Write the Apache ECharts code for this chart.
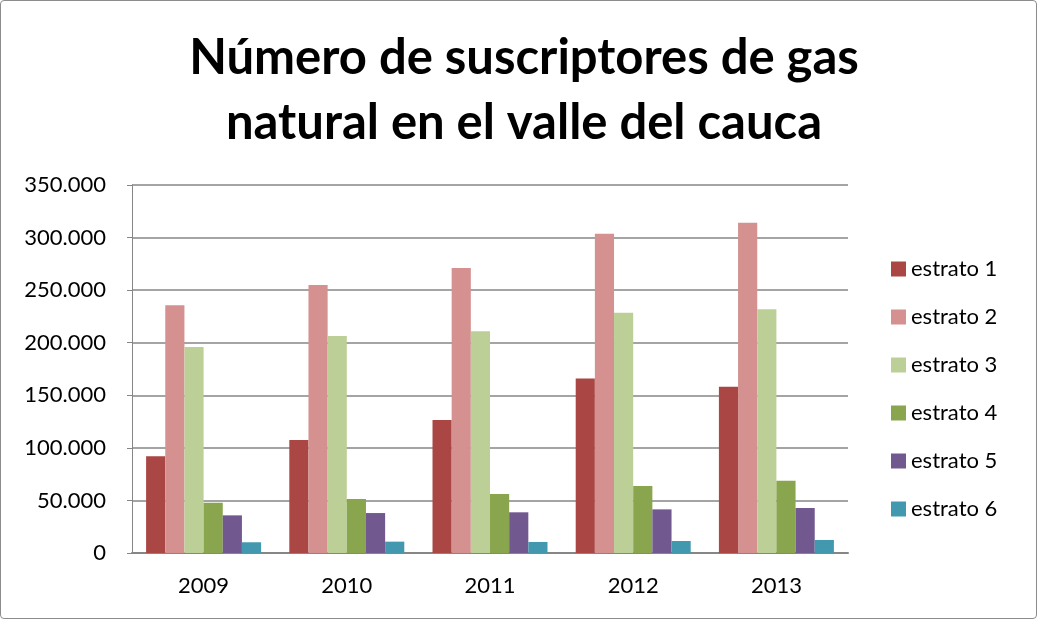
<!DOCTYPE html>
<html>
<head>
<meta charset="utf-8">
<script src="https://cdn.jsdelivr.net/npm/echarts@6/dist/echarts.min.js"></script>
<style>
html, body { margin: 0; padding: 0; background: #fff; }
#chart { position: absolute; left: 0; top: 0; width: 1035px; height: 617px; border: 1px solid #8c8c8c; border-radius: 4px; }
</style>
</head>
<body>
<div id="chart"></div>
<script>
var years = ['2009', '2010', '2011', '2012', '2013'];
var estrato1 = [92000, 107500, 126500, 166000, 158000];
var estrato2 = [235600, 255000, 271000, 303700, 314000];
var estrato3 = [196000, 206400, 210800, 228600, 231800];
var estrato4 = [47800, 51400, 56100, 63700, 68800];
var estrato5 = [35800, 38000, 38700, 41500, 42800];
var estrato6 = [10200, 10800, 10500, 11400, 12400];
var names = ['estrato 1', 'estrato 2', 'estrato 3', 'estrato 4', 'estrato 5', 'estrato 6'];
var colors = ['#AA4643', '#D49190', '#BCCF97', '#89A54E', '#71588F', '#4198AF'];
var yTicks = [0, 50000, 100000, 150000, 200000, 250000, 300000, 350000];

var allData = [estrato1, estrato2, estrato3, estrato4, estrato5, estrato6];
var series = [];
for (var i = 0; i < names.length; i++) {
	series.push({
		name: names[i],
		type: 'bar',
		data: allData[i],
		barGap: '0%',
		barCategoryGap: '19.7%',
		itemStyle: { color: colors[i] }
	});
}

// 350000 -> 350.000
function fmt(v) {
	if (v === 0) return '0';
	return String(v).replace(/\B(?=(\d{3})+(?!\d))/g, '.');
}

var myChart = echarts.init(document.getElementById('chart'));
myChart.setOption({
	animation: false,
	textStyle: { fontFamily: 'Lato, "Open Sans", sans-serif' },
	color: colors,
	title: {
		text: 'Número de suscriptores de gas\nnatural en el valle del cauca',
		left: 518,
		textAlign: 'center',
		top: 20,
		textStyle: { fontSize: 49, fontWeight: 'bold', color: '#000', lineHeight: 65, fontFamily: 'Lato, "Open Sans", sans-serif' }
	},
	legend: {
		orient: 'vertical',
		left: 885,
		top: 252,
		itemWidth: 15,
		itemHeight: 15,
		itemGap: 26,
		icon: 'rect',
		textStyle: { fontSize: 22, color: '#000' },
		data: names
	},
	grid: { left: 131, right: 188, top: 184, bottom: 65 },
	xAxis: {
		type: 'category',
		data: years,
		axisLine: { lineStyle: { color: '#868686', width: 2 } },
		axisTick: { show: false },
		axisLabel: { fontSize: 22, color: '#000', margin: 22 }
	},
	yAxis: {
		type: 'value',
		min: yTicks[0],
		max: yTicks[yTicks.length - 1],
		interval: 50000,
		axisLine: { show: true, lineStyle: { color: '#868686', width: 1 } },
		axisTick: { show: true, length: 5, inside: false, lineStyle: { color: '#868686' } },
		axisLabel: { fontSize: 22, color: '#000', margin: 26, formatter: fmt },
		splitLine: { lineStyle: { color: '#868686', width: 1.5 } }
	},
	series: series
});
</script>
</body>
</html>
